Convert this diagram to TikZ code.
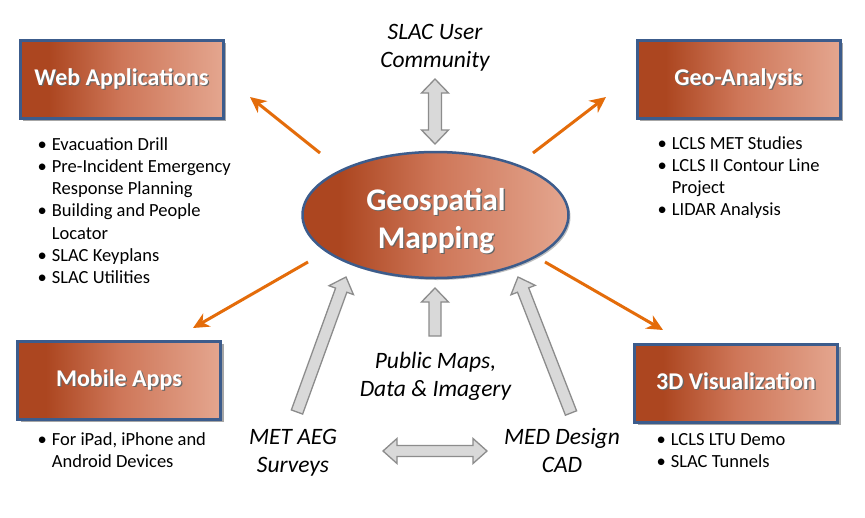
\documentclass[tikz,border=0pt]{standalone}
\usepackage{fontspec}
\setmainfont{Carlito}
\usetikzlibrary{calc,arrows.meta,shadows,shapes.geometric}
\definecolor{rustA}{RGB}{172,70,32}
\definecolor{rustB}{RGB}{206,118,88}
\definecolor{rustC}{RGB}{228,166,143}
\definecolor{bordblue}{RGB}{60,92,140}
\definecolor{arrorange}{RGB}{228,108,10}
\definecolor{arrfill}{RGB}{217,217,217}
\definecolor{arrdraw}{RGB}{140,140,140}
\pgfdeclarehorizontalshading{rustshade}{100bp}{color(0bp)=(rustA); color(25bp)=(rustA); color(32bp)=(rustA); color(50bp)=(rustB); color(75bp)=(rustC); color(100bp)=(rustC)}
\newcommand\shtext[1]{\leavevmode\rlap{\kern1.3pt\raisebox{-1.3pt}{\textcolor{black!60}{#1}}}\textcolor{white}{#1}}
\newcommand\bitem{\makebox[13.7pt][l]{\makebox[8pt]{\textbullet}}}
\newcommand\bcont{\hspace*{13.7pt}}
\newcommand\sarrow[5]{%
 \draw[grayarr] ($(#1)!#3!90:(#2)$) -- ($(#2)!#5!(#1)!#3!90:(#2)$) -- ($(#2)!#5!(#1)!#4!90:(#2)$) -- (#2) -- ($(#2)!#5!(#1)!#4!-90:(#2)$) -- ($(#2)!#5!(#1)!#3!-90:(#2)$) -- ($(#1)!#3!-90:(#2)$) -- cycle;}
\newcommand\darrow[5]{%
 \draw[grayarr] (#1) -- ($(#1)!#5!(#2)!#4!90:(#2)$) -- ($(#1)!#5!(#2)!#3!90:(#2)$) -- ($(#2)!#5!(#1)!#3!90:(#2)$) -- ($(#2)!#5!(#1)!#4!90:(#2)$) -- (#2) -- ($(#2)!#5!(#1)!#4!-90:(#2)$) -- ($(#2)!#5!(#1)!#3!-90:(#2)$) -- ($(#1)!#5!(#2)!#3!-90:(#2)$) -- ($(#1)!#5!(#2)!#4!-90:(#2)$) -- cycle;}
\tikzset{
 box/.style={rectangle, minimum width=203pt, minimum height=78pt, shading=rustshade, draw=bordblue, line width=3pt, drop shadow={shadow xshift=3pt, shadow yshift=-3pt, opacity=0.35, fill=black}, inner sep=0pt},
 oval/.style={ellipse, minimum width=266pt, minimum height=126pt, shading=rustshade, draw=bordblue, line width=2.5pt, drop shadow={shadow xshift=2pt, shadow yshift=-2pt, opacity=0.25, fill=black}, inner sep=0pt},
 title/.style={font=\fontsize{24}{29}\selectfont\bfseries, inner sep=0pt, anchor=base},
 bigtitle/.style={font=\fontsize{31.5}{38}\selectfont\bfseries, inner sep=0pt, anchor=base},
 itemlist/.style={font=\fontsize{18.5}{22.3}\selectfont, inner sep=0pt, anchor=base west},
 lbl/.style={font=\fontsize{23.5}{28.5}\selectfont\itshape, inner sep=0pt, anchor=base},
 orangearrow/.style={draw=arrorange, line width=3pt, -{Stealth[length=16pt,width=15pt,inset=5pt]}},
 grayarr/.style={fill=arrfill, draw=arrdraw, line width=1.3pt, line join=miter}
}
\begin{document}
\begin{tikzpicture}[x=1pt,y=-1pt]
\useasboundingbox[fill=white] (0,0) rectangle (865,517);
% coordinates for connectors
\coordinate (wa1) at (320,153); \coordinate (wa2) at (250,97);
\coordinate (ga1) at (533,153); \coordinate (ga2) at (606,97);
\coordinate (ma1) at (308,262); \coordinate (ma2) at (193,328);
\coordinate (va1) at (545,262); \coordinate (va2) at (663,330);
\coordinate (ut) at (435,79); \coordinate (ub) at (435,144);
\coordinate (pb) at (435,336); \coordinate (pt) at (435,288);
\coordinate (lb) at (297,412); \coordinate (lt) at (346,277);
\coordinate (rb) at (571,413); \coordinate (rt) at (518,277);
\coordinate (hl) at (383,451); \coordinate (hr) at (487,451);
% gray block arrows
\darrow{ut}{ub}{6.5pt}{13.5pt}{14pt}
\sarrow{pb}{pt}{6pt}{13.5pt}{14pt}
\sarrow{lb}{lt}{6pt}{13pt}{14pt}
\sarrow{rb}{rt}{6pt}{13pt}{14pt}
\darrow{hl}{hr}{5.5pt}{12.5pt}{14pt}
% central ellipse
\node[oval] (gm) at (435.5,215) {};
\node[bigtitle] (gmt) at (436,210) {\begin{tabular}[t]{@{}c@{}}\shtext{Geospatial}\\\shtext{Mapping}\end{tabular}};
% boxes
\node[box] (web) at (121.5,79) {};
\node[title] (webt) at ($(web.center)+(0,6.5)$) {\shtext{Web Applications}};
\node[box] (geo) at (738.5,79) {};
\node[title] (geot) at ($(geo.center)+(0,6.5)$) {\shtext{Geo-Analysis}};
\node[box] (mob) at (119,380) {};
\node[title] (mobt) at ($(mob.center)+(0,6.5)$) {\shtext{Mobile Apps}};
\node[box] (vis) at (736,383) {};
\node[title] (vist) at ($(vis.center)+(0,6.5)$) {\shtext{3D Visualization}};
% orange arrows
\draw[orangearrow] (wa1) -- (wa2);
\draw[orangearrow] (ga1) -- (ga2);
\draw[orangearrow] (ma1) -- (ma2);
\draw[orangearrow] (va1) -- (va2);
% lists
\node[itemlist] (webl) at (38,150) {\begin{tabular}[t]{@{}l@{}}\bitem Evacuation Drill\\\bitem Pre-Incident Emergency\\\bcont Response Planning\\\bitem Building and People\\\bcont Locator\\\bitem SLAC Keyplans\\\bitem SLAC Utilities\end{tabular}};
\node[itemlist] (geol) at (658,149) {\begin{tabular}[t]{@{}l@{}}\bitem LCLS MET Studies\\\bitem LCLS II Contour Line\\\bcont Project\\\bitem LIDAR Analysis\end{tabular}};
\node[itemlist] (mobl) at (38,445) {\begin{tabular}[t]{@{}l@{}}\bitem For iPad, iPhone and\\\bcont Android Devices\end{tabular}};
\node[itemlist] (visl) at (657,445) {\begin{tabular}[t]{@{}l@{}}\bitem LCLS LTU Demo\\\bitem SLAC Tunnels\end{tabular}};
% italic labels
\node[lbl] (slac) at (435,39) {\begin{tabular}[t]{@{}c@{}}SLAC User\\Community\end{tabular}};
\node[lbl] (pub) at (435.5,368) {\begin{tabular}[t]{@{}c@{}}Public Maps,\\Data \& Imagery\end{tabular}};
\node[lbl] (met) at (293,444) {\begin{tabular}[t]{@{}c@{}}MET AEG\\Surveys\end{tabular}};
\node[lbl] (med) at (562,444) {\begin{tabular}[t]{@{}c@{}}MED Design\\CAD\end{tabular}};
\end{tikzpicture}
\end{document}
